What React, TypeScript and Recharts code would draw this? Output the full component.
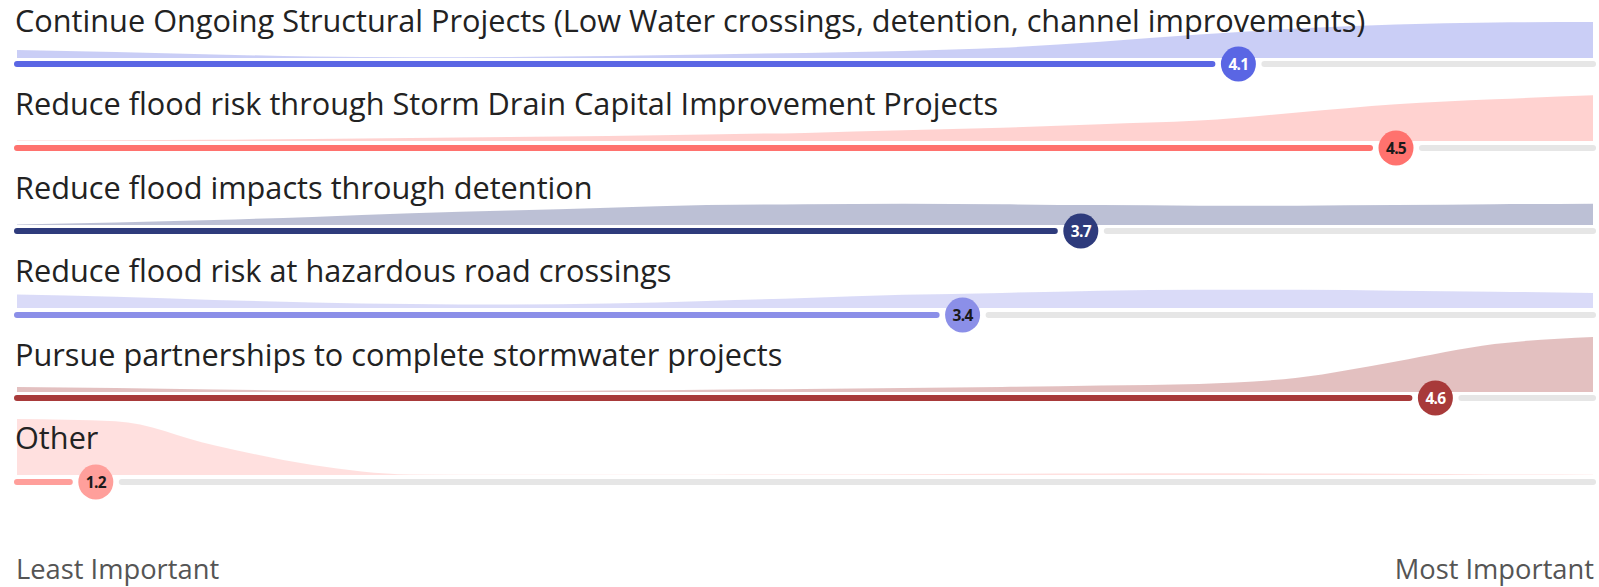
import { AreaChart, Area, ComposedChart, Scatter, XAxis, YAxis, ReferenceLine } from "recharts";

// response scale, 1 = least important, 5 = most important
const SCORE_STEPS = [1, 1.25, 1.5, 1.75, 2, 2.25, 2.5, 2.75, 3, 3.25, 3.5, 3.75, 4, 4.25, 4.5, 4.75, 5];

const PRIORITIES = [
  "Continue Ongoing Structural Projects (Low Water crossings, detention, channel improvements)",
  "Reduce flood risk through Storm Drain Capital Improvement Projects",
  "Reduce flood impacts through detention",
  "Reduce flood risk at hazardous road crossings",
  "Pursue partnerships to complete stormwater projects",
  "Other",
];

const MEAN_SCORES = [4.1, 4.5, 3.7, 3.4, 4.6, 1.2];

// relative answer density along SCORE_STEPS
const DENSITY_STRUCTURAL = [0.145, 0.109, 0.064, 0.027, 0.015, 0.018, 0.036, 0.064, 0.091, 0.127, 0.182, 0.291, 0.418, 0.527, 0.6, 0.636, 0.645];
const DENSITY_STORM_DRAIN = [0.009, 0.015, 0.022, 0.036, 0.055, 0.073, 0.091, 0.118, 0.145, 0.191, 0.236, 0.3, 0.364, 0.509, 0.655, 0.745, 0.818];
const DENSITY_DETENTION = [0.01, 0.045, 0.09, 0.145, 0.21, 0.26, 0.31, 0.355, 0.37, 0.38, 0.37, 0.355, 0.345, 0.345, 0.355, 0.37, 0.38];
const DENSITY_ROAD_CROSSINGS = [0.24, 0.2, 0.145, 0.1, 0.073, 0.064, 0.082, 0.127, 0.18, 0.236, 0.27, 0.31, 0.327, 0.327, 0.31, 0.29, 0.27];
const DENSITY_PARTNERSHIPS = [0.09, 0.073, 0.045, 0.022, 0.013, 0.015, 0.027, 0.04, 0.055, 0.073, 0.09, 0.118, 0.145, 0.255, 0.545, 0.855, 0.98];
const DENSITY_OTHER = [1.0, 0.96, 0.53, 0.18, 0.01, 0.004, 0.004, 0.006, 0.01, 0.015, 0.022, 0.027, 0.03, 0.027, 0.022, 0.01, 0.004];

const DENSITIES = [
  DENSITY_STRUCTURAL,
  DENSITY_STORM_DRAIN,
  DENSITY_DETENTION,
  DENSITY_ROAD_CROSSINGS,
  DENSITY_PARTNERSHIPS,
  DENSITY_OTHER,
];

const SCALE_LABELS = ["Least Important", "Most Important"];

const COLORS = ["#5a66e4", "#ff726e", "#2e3b7c", "#8b8fe8", "#a83a3a", "#ff9f9b"];
const DOT_TEXT = ["#ffffff", "#1a1a1a", "#ffffff", "#1a1a1a", "#ffffff", "#1a1a1a"];

const W = 1599;
const H = 587;
const PLOT_LEFT = 17;
const PLOT_RIGHT = 6;
const PLOT_W = W - PLOT_LEFT - PLOT_RIGHT;
const FIRST_ROW_Y = 64;
const ROW_STEP = 83.5;
const DENSITY_H = 56;
const DENSITY_GAP = 6.5;
const TRACK_H = 44;
const DOT_R = 17.5;
const GAP_PX = 26;
const FONT = '"Open Sans", sans-serif';

const margin = { top: 0, right: PLOT_RIGHT, bottom: 0, left: PLOT_LEFT };

function rowY(i: number) {
  return FIRST_ROW_Y + i * ROW_STEP;
}

function DensityRow({ index }: { index: number }) {
  const data = SCORE_STEPS.map((score, i) => ({ score, density: DENSITIES[index][i] }));
  return (
    <div style={{ position: "absolute", left: 0, top: rowY(index) - DENSITY_GAP - DENSITY_H }}>
      <AreaChart width={W} height={DENSITY_H} data={data} margin={margin}>
        <XAxis dataKey="score" type="number" domain={[1, 5]} hide />
        <YAxis type="number" domain={[0, 1]} hide />
        <Area
          type="monotone"
          dataKey="density"
          stroke="none"
          fill={COLORS[index]}
          fillOpacity={0.32}
          isAnimationActive={false}
        />
      </AreaChart>
    </div>
  );
}

function TrackRow({ index }: { index: number }) {
  const mean = MEAN_SCORES[index];
  const color = COLORS[index];
  const gap = (GAP_PX / PLOT_W) * 4;
  const data = [{ score: mean, level: 0.5 }];

  return (
    <div style={{ position: "absolute", left: 0, top: rowY(index) - TRACK_H / 2 }}>
      <ComposedChart width={W} height={TRACK_H} data={data} margin={margin}>
        <XAxis dataKey="score" type="number" domain={[1, 5]} hide />
        <YAxis dataKey="level" type="number" domain={[0, 1]} hide />
        <ReferenceLine
          segment={[{ x: mean + gap, y: 0.5 }, { x: 5, y: 0.5 }]}
          stroke="#e6e6e6"
          strokeWidth={6}
          strokeLinecap="round"
        />
        <ReferenceLine
          segment={[{ x: 1, y: 0.5 }, { x: mean - gap, y: 0.5 }]}
          stroke={color}
          strokeWidth={6}
          strokeLinecap="round"
        />
        <Scatter
          dataKey="level"
          isAnimationActive={false}
          shape={(p: any) => (
            <g>
              <circle cx={p.cx} cy={p.cy} r={DOT_R} fill={color} />
              <text
                x={p.cx}
                y={p.cy}
                dy="0.36em"
                textAnchor="middle"
                fontFamily={FONT}
                fontWeight={700}
                fontSize={15.5}
                letterSpacing={-0.7}
                fill={DOT_TEXT[index]}
              >
                {mean.toFixed(1)}
              </text>
            </g>
          )}
        />
      </ComposedChart>
    </div>
  );
}

export default function App() {
  return (
    <div style={{ position: "absolute", left: 0, top: 0, width: W, height: H, background: "#fff", overflow: "hidden" }}>
      {PRIORITIES.map((_, i) => (
        <DensityRow key={`d-${i}`} index={i} />
      ))}
      {PRIORITIES.map((_, i) => (
        <TrackRow key={`t-${i}`} index={i} />
      ))}
      <svg
        width={W}
        height={H}
        style={{ position: "absolute", left: 0, top: 0, pointerEvents: "none" }}
      >
        {PRIORITIES.map((label, i) => (
          <text key={label} x={15} y={rowY(i) - 32.4} fontFamily={FONT} fontSize={30.7} fill="#222">
            {label}
          </text>
        ))}
        <text x={16} y={579} fontFamily={FONT} fontSize={27.3} fill="#555">
          {SCALE_LABELS[0]}
        </text>
        <text x={W - 5} y={579} textAnchor="end" fontFamily={FONT} fontSize={27.3} fill="#555">
          {SCALE_LABELS[1]}
        </text>
      </svg>
    </div>
  );
}
